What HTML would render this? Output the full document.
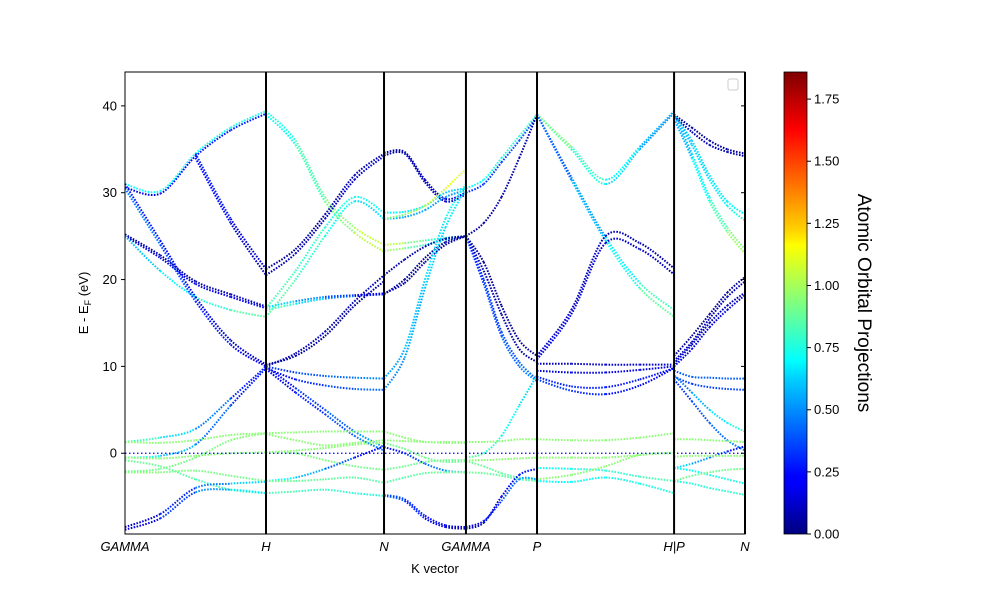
<!DOCTYPE html>
<html><head><meta charset="utf-8"><style>
body{margin:0;background:#fff}
svg{display:block;font-family:"Liberation Sans",sans-serif}
</style></head><body>
<svg id="chart" width="1000" height="600" viewBox="0 0 1000 600">
<defs><linearGradient id="jet" x1="0" y1="1" x2="0" y2="0">
<stop offset="0" stop-color="#00007f"/><stop offset="0.11" stop-color="#0000ff"/><stop offset="0.125" stop-color="#0000ff"/><stop offset="0.34" stop-color="#00d4ff"/><stop offset="0.375" stop-color="#00ffff"/><stop offset="0.5" stop-color="#7fff7f"/><stop offset="0.625" stop-color="#ffff00"/><stop offset="0.66" stop-color="#ffd000"/><stop offset="0.875" stop-color="#ff0000"/><stop offset="1" stop-color="#7f0000"/></linearGradient></defs>
<g id="bands"></g>
<g id="axes"></g>
<rect x="784" y="72" width="23" height="462" fill="url(#jet)" stroke="#000" stroke-width="0.8"/>
<g id="cbticks"></g>
<text x="858" y="303" font-size="19" text-anchor="middle" transform="rotate(90 858 303)">Atomic Orbital Projections</text>
<text x="435" y="573" font-size="13" text-anchor="middle">K vector</text>
<text x="88" y="303" font-size="13" text-anchor="middle" transform="rotate(-90 88 303)">E - E<tspan font-size="9" dy="3">F</tspan><tspan dy="-3"> (eV)</tspan></text>
<rect x="728" y="79" width="10" height="11" rx="2" fill="#fff" stroke="#ccc"/>
</svg>
<script>
const kLabels=["GAMMA","H","N","GAMMA","P","H|P","N"];
const kTicks=[0,1,1.837,2.418,2.922,3.894,4.397];
const yTicks=[0,10,20,30,40];
const cbTicks=[0,0.25,0.5,0.75,1,1.25,1.5,1.75];
const fermi=0;
const fracs=[0,0.25,0.5,0.75,1];
const seg1Bands=[[31,30.2,34.5,37.5,39.4],[30.6,29.9,34.2,37.2,39.1],[25,22.5,19.5,18,16.7],[25.2,22.8,19.8,18.3,16.9],[25,21,18,16.5,15.7],[30.5,24,17.5,12.5,10],[31,24.5,18,13,10.2],[null,null,34.5,27,21.2],[null,null,34,26.5,20.5],[1.3,1.8,2.8,6.3,10],[-0.5,-0.3,1,5.5,9.8],[1.3,1.2,1.5,2.1,2.3],[-0.5,-0.6,-0.3,0,0.1],[-2.2,-2.2,-2.0,-2.6,-3.2],[-0.8,-1.5,-3,-4.2,-4.6],[-2.1,-1.8,-0.5,1.5,2.3],[-8.5,-7,-4,-3.5,-3.3],[-8.8,-7.5,-4.5,-4.2,-4.6]];
const seg1Proj=[[0.7,0.75],[0.2,0.3],[0.15,0.2],[0.05,0.1],[0.55,0.9],[0.5,0.15],[0.3,0.1],[0.6,0.1],[0.5,0.05],[0.9,0.2],[0.8,0.2],[0.95,0.95],[0.95,0.95],[0.95,0.9],[0.9,0.8],[0.9,0.95],[0.05,0.7],[0.1,0.75]];
const seg2Bands=[[39.4,36,29.5,26,24],[39,35.5,29,25.4,23.2],[21.2,23.5,27.5,32,34.5],[20.5,23,27,31.5,34.2],[16.7,21,26,29.5,27.7],[15.7,20,25,29,27],[16.5,17.2,17.8,18.1,18.3],[16.8,17.5,18,18.2,18.4],[10,11.5,14,17.5,20.5],[10.2,11.2,13.5,17,19.8],[10,9.3,8.9,8.7,8.6],[9.8,8.5,7.8,7.4,7.3],[10,7.5,5,2.5,0.7],[9.7,7,4.5,2,0.3],[2.3,2.4,2.5,2.5,2.5],[2.2,1.5,0.9,1.2,1.5],[0.1,0,-0.8,-1.5,-1.9],[0.1,0.3,0.6,1,1.2],[-3.2,-2.8,-1.8,-0.5,0.8],[-4.6,-4.4,-4.2,-4.6,-4.9],[-3.2,-3.2,-3,-2.8,-3.4]];
const seg2Proj=[[0.7,1.1],[0.65,1.1],[0.05,0.1],[0.1,0.15],[0.85,0.7],[0.9,0.6],[0.9,0.2],[0.7,0.15],[0.1,0.1],[0.05,0.05],[0.3,0.5],[0.2,0.45],[0.2,0.55],[0.15,0.5],[0.95,0.95],[0.95,0.95],[0.95,0.9],[0.95,0.95],[0.8,0.15],[0.85,0.75],[0.9,0.85]];
const seg3Bands=[[34.6,34.7,31.5,29.3,30],[34.3,34.5,31.2,29,29.8],[27.7,27.8,28.5,30,30.5],[27,27.2,28,29.5,30.3],[24,24.2,24.5,24.8,25],[23.3,23.6,24,24.6,25],[20.5,22.3,23.8,24.7,25],[18.3,20,22.5,24.3,25],[18.4,19.6,22,24,25],[8.6,12,20,27,31],[7.3,11,19,26,30.5],[27,27.5,28.5,30.5,32.7],[0.7,0,-1.2,-2,-2.2],[2.5,1.8,1.3,1.3,1.3],[1.5,1.4,1.3,1.2,1.2],[-1.9,-1.5,-1.0,-0.8,-0.8],[1.2,0.5,-0.5,-1,-0.9],[-3.4,-2.8,-2.3,-2.2,-2.2],[-4.9,-5.5,-7.5,-8.5,-8.7],[-4.8,-5.3,-7.2,-8.3,-8.5]];
const seg3Proj=[[0.05,0.2],[0.05,0.15],[0.7,0.6],[0.55,0.5],[1.1,0.6],[1.05,0.5],[0.1,0.05],[0.05,0.05],[0.1,0.05],[0.5,0.75],[0.45,0.7],[0.9,1.15],[0.2,0.6],[0.95,0.95],[0.95,0.95],[0.9,0.9],[0.9,0.9],[0.85,0.9],[0.45,0.05],[0.4,0.1]];
const seg4Bands=[[30.5,31.5,34,36.5,39],[30,31,33.5,36,38.8],[25,26.5,29.5,34,39],[25,22,17,13,11.2],[25,21,16,12,10.5],[25,20,14,10.5,8.5],[25,19.5,13.5,10,8.3],[-0.5,0,2,5.5,9],[1.3,1.3,1.4,1.6,1.6],[-0.8,-0.8,-0.7,-0.6,-0.5],[-0.9,-1.5,-2.3,-2.8,-3],[-2.2,-2.3,-2.6,-3,-3.2],[-8.7,-8,-5,-2.5,-1.8],[-8.5,-7.8,-5.5,-3,-3]];
const seg4Proj=[[0.7,0.8],[0.3,0.4],[0.05,0.1],[0.05,0.05],[0.1,0.05],[0.25,0.45],[0.3,0.5],[0.9,0.6],[0.95,0.95],[0.95,0.95],[0.9,0.85],[0.9,0.85],[0.05,0.3],[0.1,0.6]];
const seg5Bands=[[39,35.3,31.5,35.3,39.4],[39,35,31,35,39.2],[39,31.8,24.9,19.6,16.5],[39,31.5,24.5,19,15.7],[11.2,16.5,25,24.2,21.3],[10.8,16,24.2,23.5,20.6],[10.3,10.3,10.2,10.2,10.2],[9.5,9.3,9.3,9.6,10],[8.8,7.7,7.6,8.5,9.8],[8.5,7.2,6.8,7.8,9.8],[1.6,1.5,1.5,1.8,2.3],[-0.5,-0.5,-0.5,-0.2,0.1],[-1.7,-1.8,-2,-2.7,-3.2],[-3.2,-3.3,-2.8,-3.5,-4.6],[-3,-2.5,-1.5,-0.2,0]];
const seg5Proj=[[1.0,0.5],[0.95,0.45],[0.3,0.9],[0.35,0.95],[0.15,0.05],[0.2,0.1],[0.1,0.15],[0.15,0.2],[0.3,0.25],[0.35,0.2],[0.95,0.95],[0.95,0.95],[0.7,0.85],[0.7,0.75],[0.95,0.95]];
const seg6Bands=[[39,37.5,36,35,34.5],[38.8,37,35.5,34.7,34.2],[39,36,32,29,27.5],[39,35.5,31.5,28.5,26.8],[39,34.5,29.5,26,23.5],[38.5,34,29,25.5,23],[11.2,13.5,16,18.5,20.3],[10.6,12.8,15.5,18,19.8],[10.3,12.5,15,17,18.5],[10,12,14.5,16.5,18.2],[9.5,8.8,8.7,8.6,8.6],[8.8,8,7.6,7.4,7.3],[9,7,5,3.5,2.5],[8.5,6,3.5,1.5,0.3],[1.6,1.6,1.5,1.4,1.3],[-1.7,-1.2,-0.5,0.2,0.8],[-0.4,-0.3,-0.3,-0.3,-0.3],[-1.7,-2,-2.5,-3,-3.5],[-3.2,-3.5,-4,-4.4,-4.8],[-3.2,-2.6,-2.2,-1.9,-1.8]];
const seg6Proj=[[0.05,0.05],[0.1,0.1],[0.6,0.7],[0.55,0.75],[0.5,1.0],[0.5,1.05],[0.05,0.05],[0.1,0.1],[0.15,0.1],[0.2,0.15],[0.4,0.4],[0.35,0.35],[0.4,0.8],[0.3,0.5],[0.95,0.95],[0.7,0.2],[0.95,0.95],[0.7,0.75],[0.75,0.8],[0.9,0.9]];
const segBands=[seg1Bands,seg2Bands,seg3Bands,seg4Bands,seg5Bands,seg6Bands];
const segProj=[seg1Proj,seg2Proj,seg3Proj,seg4Proj,seg5Proj,seg6Proj];

const X0=125,X1=745,Y0=72,Y1=534,EMIN=-9.3,EMAX=43.9,PMAX=1.859;
const xS=k=>X0+(k-kTicks[0])/(kTicks[kTicks.length-1]-kTicks[0])*(X1-X0);
const yS=e=>Y1-(e-EMIN)/(EMAX-EMIN)*(Y1-Y0);
const cbS=p=>Y1-p/PMAX*(Y1-Y0);
function jet(v){v=Math.max(0,Math.min(1,v/PMAX));
 const f=(x)=>Math.max(0,Math.min(1,x));
 const r=f(1.5-Math.abs(4*v-3)),g=f(1.5-Math.abs(4*v-2)),b=f(1.5-Math.abs(4*v-1));
 return `rgb(${Math.round(r*255)},${Math.round(g*255)},${Math.round(b*255)})`;}
const NS="http://www.w3.org/2000/svg";
const bandsG=document.getElementById('bands');
segBands.forEach((bands,si)=>{
 const ka=kTicks[si],kb=kTicks[si+1];
 bands.forEach((b,bi)=>{
  const pts=b.map((e,i)=>e==null?null:[xS(ka+(kb-ka)*fracs[i]),yS(e)]);
  const pr=segProj[si][bi];
  for(let i=0;i<pts.length-1;i++){
   const p1=pts[i],p2=pts[i+1]; if(!p1||!p2)continue;
   const p0=pts[i-1]||p1,p3=pts[i+2]||p2;
   const c1=[p1[0]+(p2[0]-p0[0])/6,p1[1]+(p2[1]-p0[1])/6];
   const c2=[p2[0]-(p3[0]-p1[0])/6,p2[1]-(p3[1]-p1[1])/6];
   const t=(fracs[i]+fracs[i+1])/2;
   const path=document.createElementNS(NS,'path');
   path.setAttribute('d',`M${p1[0]},${p1[1]}C${c1[0]},${c1[1]} ${c2[0]},${c2[1]} ${p2[0]},${p2[1]}`);
   path.setAttribute('fill','none');
   path.setAttribute('stroke',jet(pr[0]+(pr[1]-pr[0])*t));
   path.setAttribute('stroke-width','2');
   path.setAttribute('stroke-dasharray','1.6 1.4');
   
   
   bandsG.appendChild(path);
  }
 });
});
const fl=document.createElementNS(NS,'line');
fl.setAttribute('x1',X0);fl.setAttribute('x2',X1);fl.setAttribute('y1',yS(fermi));fl.setAttribute('y2',yS(fermi));
fl.setAttribute('stroke','#0000ff');fl.setAttribute('stroke-width','1.3');fl.setAttribute('stroke-dasharray','1.5 2.5');


bandsG.appendChild(fl);
const ax=document.getElementById('axes');
const fr=document.createElementNS(NS,'rect');
fr.setAttribute('x',X0);fr.setAttribute('y',Y0);fr.setAttribute('width',X1-X0);fr.setAttribute('height',Y1-Y0);
fr.setAttribute('fill','none');fr.setAttribute('stroke','#000');fr.setAttribute('stroke-width','1');


ax.appendChild(fr);
kTicks.forEach((k,i)=>{
 if(i>0&&i<kTicks.length){const l=document.createElementNS(NS,'line');
  l.setAttribute('x1',xS(k));l.setAttribute('x2',xS(k));l.setAttribute('y1',Y0);l.setAttribute('y2',Y1);
  l.setAttribute('stroke','#000');l.setAttribute('stroke-width','2');
  
  
  ax.appendChild(l);}
 const t=document.createElementNS(NS,'text');
 t.setAttribute('x',xS(k));t.setAttribute('y',551);t.setAttribute('font-size','13');t.setAttribute('font-style','italic');t.setAttribute('text-anchor','middle');
 t.textContent=kLabels[i];
 
 
 ax.appendChild(t);
});
yTicks.forEach(v=>{
 const y=yS(v);
 [[X0-4,X0],[X1-4,X1]].forEach(([a,b])=>{const l=document.createElementNS(NS,'line');
  l.setAttribute('x1',a);l.setAttribute('x2',b);l.setAttribute('y1',y);l.setAttribute('y2',y);l.setAttribute('stroke','#000');
  
  
  ax.appendChild(l);});
 const t=document.createElementNS(NS,'text');
 t.setAttribute('x',X0-8);t.setAttribute('y',y+4.5);t.setAttribute('font-size','13');t.setAttribute('text-anchor','end');
 t.textContent=v;
 
 
 ax.appendChild(t);
});
const cb=document.getElementById('cbticks');
cbTicks.forEach(v=>{
 const y=cbS(v);
 const l=document.createElementNS(NS,'line');
 l.setAttribute('x1',807);l.setAttribute('x2',811);l.setAttribute('y1',y);l.setAttribute('y2',y);l.setAttribute('stroke','#000');
 
 
 cb.appendChild(l);
 const t=document.createElementNS(NS,'text');
 t.setAttribute('x',814);t.setAttribute('y',y+4.5);t.setAttribute('font-size','13');
 t.textContent=v.toFixed(2);
 
 
 cb.appendChild(t);
});
</script>
</body></html>
